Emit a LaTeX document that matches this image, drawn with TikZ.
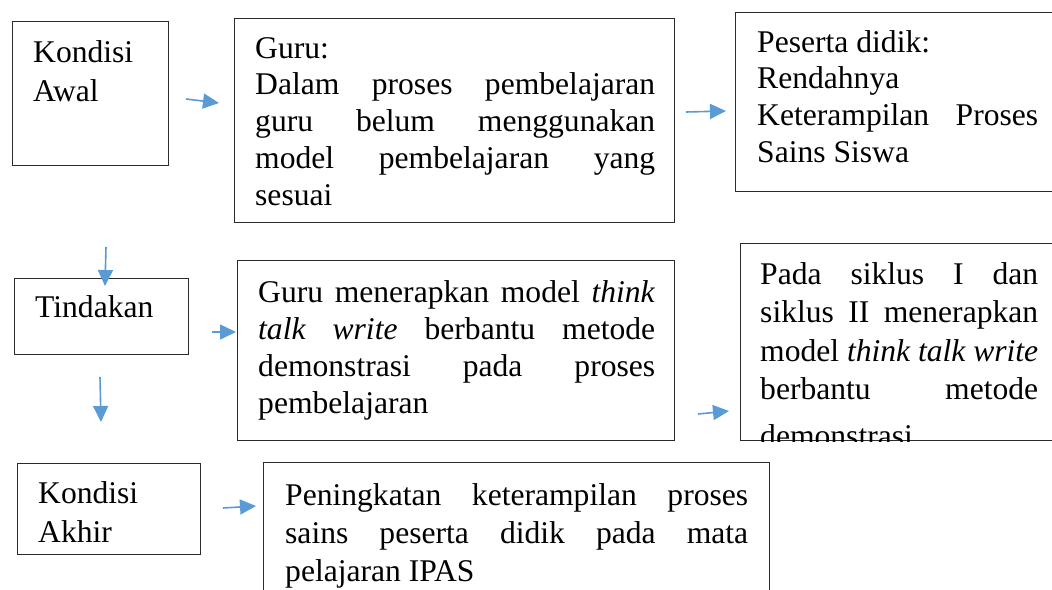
\documentclass[tikz,border=0pt]{standalone}
\usepackage{fontspec}
\setmainfont{Liberation Serif}
\usetikzlibrary{arrows.meta}
\definecolor{arrowblue}{HTML}{5B9BD5}
\definecolor{boxline}{HTML}{2B2B2B}
\newcommand{\jl}[1]{\makebox[\linewidth][s]{#1}}
\tikzset{
  box/.style={draw=boxline, line width=1.3pt, rectangle, inner sep=0pt, anchor=north west},
  txt/.style={anchor=base west, inner sep=0pt, font=\fontsize{31.6}{38}\selectfont},
  arr/.style={draw=arrowblue, line width=1.6pt, -{Triangle[length=16pt,width=15pt]}, arrowblue}
}
\begin{document}
\begin{tikzpicture}[x=1pt,y=-1pt]
\useasboundingbox (0,0) rectangle (1052,589);
\clip (0,0) rectangle (1052,589);
\fill[white] (0,0) rectangle (1052,589);
% boxes
\node[box, minimum width=156pt, minimum height=144pt] (b1) at (12,21) {};
\node[box, minimum width=440pt, minimum height=204pt] (b2) at (234,18) {};
\node[box, minimum width=340pt, minimum height=179pt] (b3) at (735,12) {};
\node[box, minimum width=174pt, minimum height=76pt] (b4) at (14,278) {};
\node[box, minimum width=437pt, minimum height=180pt] (b5) at (237,260) {};
\node[box, minimum width=340pt, minimum height=197pt] (b6) at (740,243) {};
\node[box, minimum width=183pt, minimum height=91pt] (b7) at (17,463) {};
\node[box, minimum width=506pt, minimum height=160pt] (b8) at (263,462) {};
% texts
\node[txt] (t1) at (33,62) {\parbox[t]{130pt}{\fontsize{31.6}{39}\selectfont Kondisi\\Awal}};
\node[txt] (t2) at (255,58) {\parbox[t]{400pt}{\fontsize{31.6}{36.8}\selectfont
  Guru:\\
  \jl{Dalam proses pembelajaran}\\
  \jl{guru belum menggunakan}\\
  \jl{model pembelajaran yang}\\
  sesuai}};
\node[txt] (t3) at (757,52) {\parbox[t]{281pt}{\fontsize{31.6}{36.8}\selectfont
  Peserta didik:\\
  Rendahnya\\
  \jl{Keterampilan Proses}\\
  Sains Siswa}};
\node[txt] (t4) at (35,317) {Tindakan};
\node[txt] (t5) at (258,302) {\parbox[t]{397pt}{\fontsize{31.6}{37.3}\selectfont
  \jl{Guru menerapkan model \textit{think}}\\
  \jl{\textit{talk write} berbantu metode}\\
  \jl{demonstrasi pada proses}\\
  pembelajaran}};
\begin{scope}
\clip (b6.north west) rectangle (b6.south east);
\node[txt] (t6) at (760,284) {\parbox[t]{278pt}{\fontsize{31.6}{38.5}\selectfont
  \jl{Pada siklus I dan}\\
  \jl{siklus II menerapkan}\\
  \jl{model \textit{think talk write}}\\
  \jl{berbantu metode}\\[8pt]
  demonstrasi}};
\end{scope}
\node[txt] (t7) at (38,503) {\parbox[t]{150pt}{\fontsize{31.6}{39}\selectfont Kondisi\\Akhir}};
\node[txt] (t8) at (285,505) {\parbox[t]{463pt}{\fontsize{31.6}{38}\selectfont
  \jl{Peningkatan keterampilan proses}\\
  \jl{sains peserta didik pada mata}\\
  pelajaran IPAS}};
% arrow end points
\coordinate (a1s) at (186,99);  \coordinate (a1e) at (219,103);
\coordinate (a2s) at (686,112); \coordinate (a2e) at (726,111);
\coordinate (a3s) at (106,247); \coordinate (a3e) at (105,286);
\coordinate (a4s) at (212,332); \coordinate (a4e) at (236,332);
\coordinate (a5s) at (100,377); \coordinate (a5e) at (101,422);
\coordinate (a6s) at (698,414); \coordinate (a6e) at (729,411);
\coordinate (a7s) at (223,508); \coordinate (a7e) at (256,506);
\draw[arr] (a1s) -- (a1e);
\draw[arr] (a2s) -- (a2e);
\draw[arr] (a3s) -- (a3e);
\draw[arr] (a4s) -- (a4e);
\draw[arr] (a5s) -- (a5e);
\draw[arr] (a6s) -- (a6e);
\draw[arr] (a7s) -- (a7e);
\end{tikzpicture}
\end{document}
